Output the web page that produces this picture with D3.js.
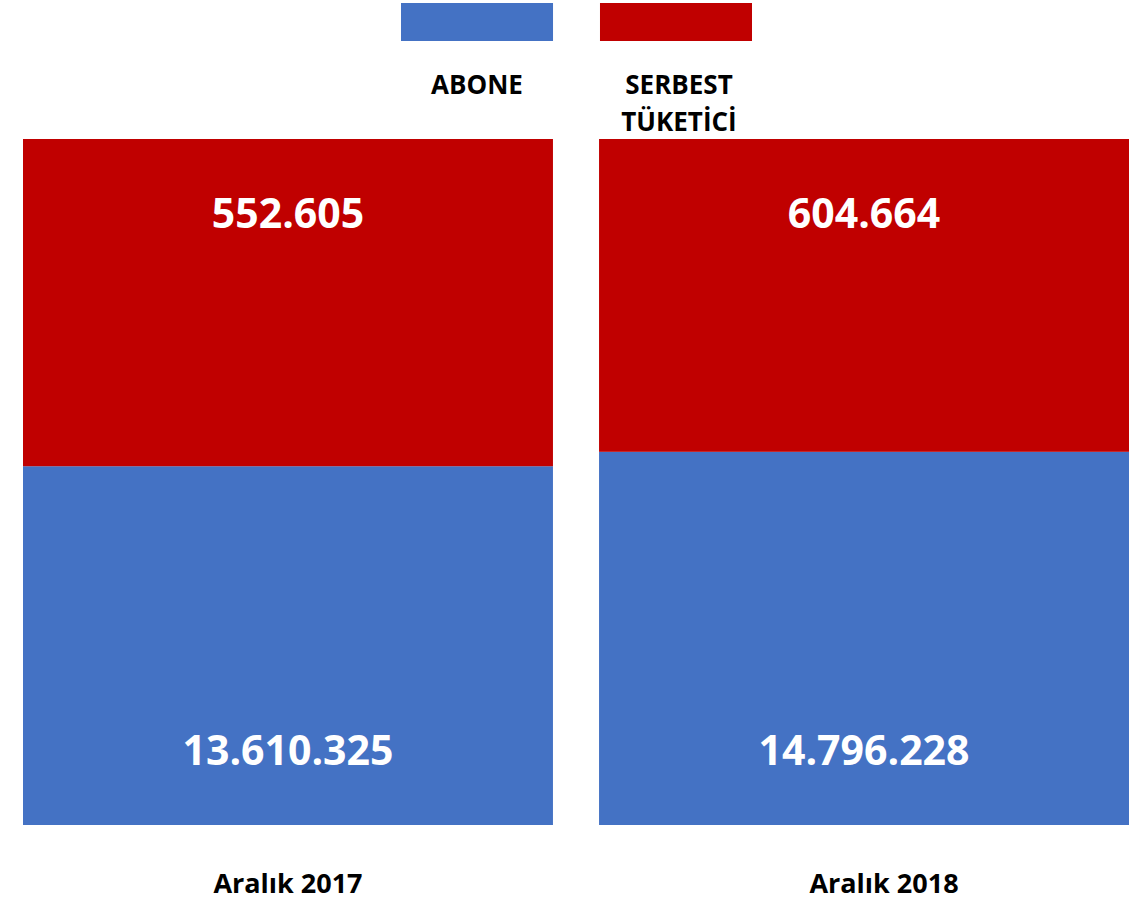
<!DOCTYPE html>
<html>
<head>
<meta charset="utf-8">
<script src="https://cdn.jsdelivr.net/npm/d3@7"></script>
<style>
  html, body { margin: 0; padding: 0; background: #fff; }
  svg { display: block; }
  text { font-family: "Open Sans", "DejaVu Sans", sans-serif; font-weight: 700; }
</style>
</head>
<body>
<svg id="chart" width="1143" height="901"></svg>
<script>
// ---- data ----
const categories = ["Aralık 2017", "Aralık 2018"];
const aboneValues = [13610325, 14796228];
const serbestValues = [552605, 604664];
// share of each bar's height given to ABONE in the reference (the picture is not drawn to scale)
const aboneShareOfBar = [0.523, 0.544];
const seriesNames = ["ABONE", "SERBEST TÜKETİCİ"];
const seriesColors = ["#4472C4", "#C00000"];

// ---- layout ----
const svg = d3.select("#chart");
const fmt = v => d3.format(",")(v).replace(/,/g, ".");

const x = d3.scaleBand().domain(categories).range([23, 1129]).paddingInner(0.08).paddingOuter(0);
const y = d3.scaleLinear().domain([0, 1]).range([825, 139]);

const rows = categories.map((c, i) => ({
  cat: c, abone: aboneValues[i], serbest: serbestValues[i],
  share: aboneShareOfBar[i]
}));

const g = svg.append("g");
// ABONE (bottom)
g.selectAll("rect.abone").data(rows).join("rect")
  .attr("class", "abone")
  .attr("x", d => x(d.cat)).attr("width", x.bandwidth())
  .attr("y", d => y(d.share)).attr("height", d => y(0) - y(d.share))
  .attr("fill", seriesColors[0]);
// SERBEST (top)
g.selectAll("rect.serbest").data(rows).join("rect")
  .attr("class", "serbest")
  .attr("x", d => x(d.cat)).attr("width", x.bandwidth())
  .attr("y", y(1)).attr("height", d => y(d.share) - y(1))
  .attr("fill", seriesColors[1]);

// value labels
g.selectAll("text.vs").data(rows).join("text")
  .attr("class", "vs")
  .attr("x", d => x(d.cat) + x.bandwidth() / 2)
  .attr("y", y(1) + 89)
  .attr("text-anchor", "middle").attr("fill", "#fff").attr("font-size", 41)
  .text(d => fmt(d.serbest));
g.selectAll("text.va").data(rows).join("text")
  .attr("class", "va")
  .attr("x", d => x(d.cat) + x.bandwidth() / 2)
  .attr("y", y(0) - 60)
  .attr("text-anchor", "middle").attr("fill", "#fff").attr("font-size", 41)
  .text(d => fmt(d.abone));

// category labels
svg.append("g").selectAll("text").data(categories).join("text")
  .attr("x", d => x(d) + x.bandwidth() / 2 + (d === categories[1] ? 20 : 0))
  .attr("y", 893)
  .attr("text-anchor", "middle").attr("fill", "#000").attr("font-size", 27)
  .text(d => d);

// legend
const legX = d3.scaleBand().domain(seriesNames).range([401, 752]).paddingInner(0.236).paddingOuter(0);
const leg = svg.append("g");
leg.selectAll("rect").data(seriesNames).join("rect")
  .attr("x", d => legX(d)).attr("y", 3)
  .attr("width", legX.bandwidth()).attr("height", 38)
  .attr("fill", (d, i) => seriesColors[i]);
leg.selectAll("text").data(seriesNames).join("text")
  .attr("x", (d, i) => legX(d) + legX.bandwidth() / 2 + (i === 1 ? 3 : 0))
  .attr("y", 94)
  .attr("text-anchor", "middle").attr("fill", "#000").attr("font-size", 26)
  .each(function(d) {
    const words = d.split(" ");
    const t = d3.select(this);
    words.forEach((w, k) => {
      t.append("tspan").attr("x", t.attr("x")).attr("dy", k === 0 ? 0 : 37).text(w);
    });
  });
</script>
</body>
</html>
